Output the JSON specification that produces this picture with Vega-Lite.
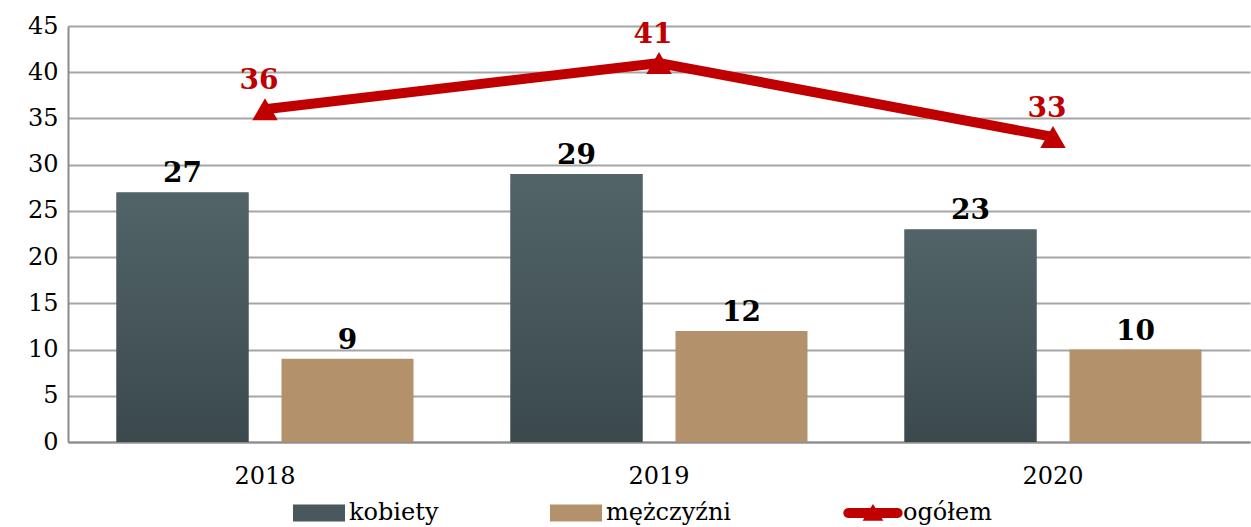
{
  "$schema": "https://vega.github.io/schema/vega-lite/v6.json",
  "width": 1182,
  "height": 416,
  "autosize": {"type": "none"},
  "padding": {"left": 68, "top": 26, "right": 1, "bottom": 85},
  "background": "white",
  "config": {
    "view": {"stroke": null},
    "font": "DejaVu Serif"
  },
  "datasets": {
    "bars": [
      {"year": "2018", "series": "kobiety", "value": 27},
      {"year": "2018", "series": "mężczyźni", "value": 9},
      {"year": "2019", "series": "kobiety", "value": 29},
      {"year": "2019", "series": "mężczyźni", "value": 12},
      {"year": "2020", "series": "kobiety", "value": 23},
      {"year": "2020", "series": "mężczyźni", "value": 10}
    ],
    "total": [
      {"year": "2018", "value": 36},
      {"year": "2019", "value": 41},
      {"year": "2020", "value": 33}
    ]
  },
  "encoding": {
    "x": {
      "field": "year",
      "type": "nominal",
      "scale": {"paddingInner": 0, "paddingOuter": 0},
      "axis": {
        "title": null,
        "labelAngle": 0,
        "labelFontSize": 24,
        "labelColor": "#000000",
        "labelPadding": 22,
        "ticks": false,
        "domain": true,
        "domainColor": "#8C8C8C",
        "domainWidth": 2,
        "grid": false
      }
    },
    "y": {
      "field": "value",
      "type": "quantitative",
      "scale": {"domain": [0, 45], "nice": false},
      "axis": {
        "title": null,
        "values": [0, 5, 10, 15, 20, 25, 30, 35, 40, 45],
        "labelFontSize": 24,
        "labelColor": "#000000",
        "labelPadding": 10,
        "ticks": false,
        "domain": true,
        "domainColor": "#8C8C8C",
        "domainWidth": 2,
        "grid": true,
        "gridColor": "#A6A6A6",
        "gridWidth": 2
      }
    }
  },
  "layer": [
    {
      "data": {"name": "bars"},
      "mark": {"type": "bar"},
      "encoding": {
        "xOffset": {
          "field": "series",
          "type": "nominal",
          "scale": {"paddingInner": 0.2, "paddingOuter": 0.294}
        },
        "color": {
          "field": "series",
          "type": "nominal",
          "scale": {
            "domain": ["kobiety", "mężczyźni", "ogółem"],
            "range": ["#48585C", "#B3916B", "#C00000"]
          },
          "legend": {
            "title": null,
            "orient": "none",
            "legendX": 225,
            "legendY": 461,
            "direction": "horizontal",
            "columnPadding": 111,
            "padding": 0,
            "labelFontSize": 24,
            "labelColor": "#000000",
            "labelOffset": 4,
            "symbolSize": 2704,
            "symbolStrokeWidth": 0,
            "labelLimit": 300,
            "encode": {
              "symbols": {
                "update": {
                  "shape": {"signal": "datum.value === 'ogółem' ? 'M-0.95,-0.19H0.95A0.19,0.19 0 0 1 0.95,0.19H-0.95A0.19,0.19 0 0 1 -0.95,-0.19Z M-0.4,0.3L0,-0.35L0.4,0.3Z' : 'M-1,-0.33H1V0.33H-1Z'"},
                  "fill": {"signal": "scale('color', datum.value)"},
                  "fillOpacity": {"value": 1},
                  "opacity": {"value": 1},
                  "strokeWidth": {"value": 0}
                }
              }
            }
          }
        }
      }
    },
    {
      "data": {"name": "bars"},
      "transform": [{"filter": "datum.series === 'kobiety'"}],
      "mark": {
        "type": "bar",
        "fill": {
          "gradient": "linear",
          "x1": 0, "y1": 0, "x2": 0, "y2": 1,
          "stops": [
            {"offset": 0, "color": "#526468"},
            {"offset": 1, "color": "#3B494C"}
          ]
        }
      },
      "encoding": {
        "xOffset": {"field": "series", "type": "nominal"}
      }
    },
    {
      "data": {"name": "bars"},
      "mark": {
        "type": "text",
        "baseline": "bottom",
        "dy": -4,
        "fontSize": 28,
        "fontWeight": "bold",
        "color": "#000000"
      },
      "encoding": {
        "xOffset": {"field": "series", "type": "nominal"},
        "text": {"field": "value", "type": "quantitative"}
      }
    },
    {
      "data": {"name": "total"},
      "mark": {"type": "line", "strokeWidth": 10, "strokeCap": "round"},
      "encoding": {
        "color": {"datum": "ogółem"}
      }
    },
    {
      "data": {"name": "total"},
      "mark": {"type": "point", "shape": "triangle-up", "filled": true, "size": 650, "opacity": 1, "color": "#C00000"},
      "encoding": {}
    },
    {
      "data": {"name": "total"},
      "mark": {
        "type": "text",
        "baseline": "bottom",
        "dy": -14,
        "dx": -6,
        "fontSize": 28,
        "fontWeight": "bold",
        "color": "#C00000"
      },
      "encoding": {
        "text": {"field": "value", "type": "quantitative"}
      }
    }
  ]
}
